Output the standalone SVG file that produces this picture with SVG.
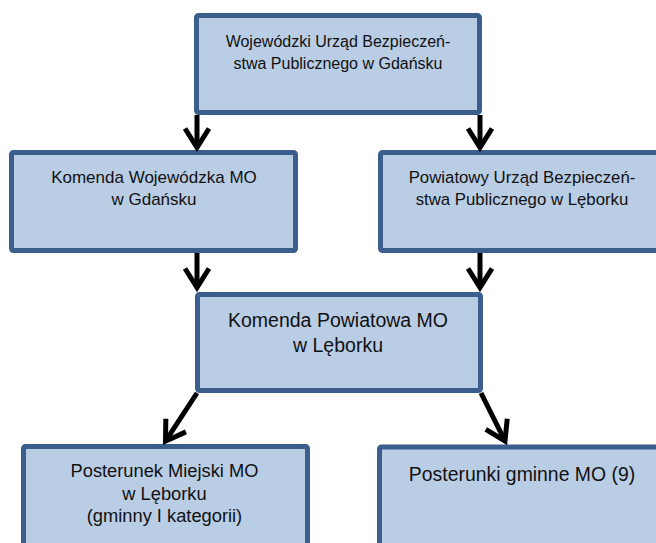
<svg xmlns="http://www.w3.org/2000/svg" width="656" height="543" viewBox="0 0 656 543">
  <style>
    .box { fill: #B9CDE5; stroke: #3B5E8C; stroke-width: 5; }
    .t { font-family: "Liberation Sans", Arial, sans-serif; fill: #111; text-anchor: middle; }
    .conn { stroke: #000; stroke-width: 5; fill: none; marker-end: url(#ah); }
  </style>
  <defs>
    <marker id="ah" markerUnits="userSpaceOnUse" markerWidth="30" markerHeight="30" viewBox="-25 -15 30 30" refX="0" refY="0" orient="auto" overflow="visible">
      <path d="M-19,-12 L0,0 L-19,12" fill="none" stroke="#000" stroke-width="5" stroke-linejoin="miter"/>
    </marker>
  </defs>
  <rect x="0" y="0" width="656" height="543" fill="#FFFFFF"/>

  <g id="node-wubp">
    <rect class="box" x="196.5" y="15.5" width="283" height="97" rx="2"/>
    <text class="t" font-size="16" x="338" y="47">Wojewódzki Urząd Bezpieczeń-</text>
    <text class="t" font-size="16" x="338" y="69">stwa Publicznego w Gdańsku</text>
  </g>

  <g id="node-kwmo">
    <rect class="box" x="11.5" y="152.5" width="284" height="98" rx="2"/>
    <text class="t" font-size="17" x="154" y="183">Komenda Wojewódzka MO</text>
    <text class="t" font-size="17" x="154" y="205">w Gdańsku</text>
  </g>

  <g id="node-pubp">
    <rect class="box" x="380.5" y="152.5" width="290" height="98" rx="2"/>
    <text class="t" font-size="16.8" x="522" y="183">Powiatowy Urząd Bezpieczeń-</text>
    <text class="t" font-size="16.8" x="522" y="205">stwa Publicznego w Lęborku</text>
  </g>

  <g id="node-kpmo">
    <rect class="box" x="197.5" y="294.5" width="283" height="96" rx="2"/>
    <text class="t" font-size="19.5" x="338" y="327">Komenda Powiatowa MO</text>
    <text class="t" font-size="19.5" x="338" y="352">w Lęborku</text>
  </g>

  <g id="node-pmmo">
    <rect class="box" x="23.5" y="446.5" width="284" height="120" rx="2"/>
    <text class="t" font-size="18.3" x="164.5" y="477">Posterunek Miejski MO</text>
    <text class="t" font-size="18.3" x="164.5" y="500">w Lęborku</text>
    <text class="t" font-size="18.3" x="164.5" y="522">(gminny I kategorii)</text>
  </g>

  <g id="node-pgmo">
    <rect class="box" x="379.5" y="447" width="300" height="120" rx="2"/>
    <text class="t" font-size="19.4" x="522" y="481">Posterunki gminne MO (9)</text>
  </g>

  <g id="connectors">
    <line class="conn" x1="197" y1="115" x2="197" y2="147.5"/>
    <line class="conn" x1="480" y1="115" x2="480" y2="147.5"/>
    <line class="conn" x1="197" y1="253" x2="197" y2="287.5"/>
    <line class="conn" x1="480" y1="253" x2="480" y2="287.5"/>
    <line class="conn" x1="197" y1="393" x2="165.5" y2="441.2"/>
    <line class="conn" x1="481" y1="393" x2="505" y2="441"/>
  </g>
</svg>
